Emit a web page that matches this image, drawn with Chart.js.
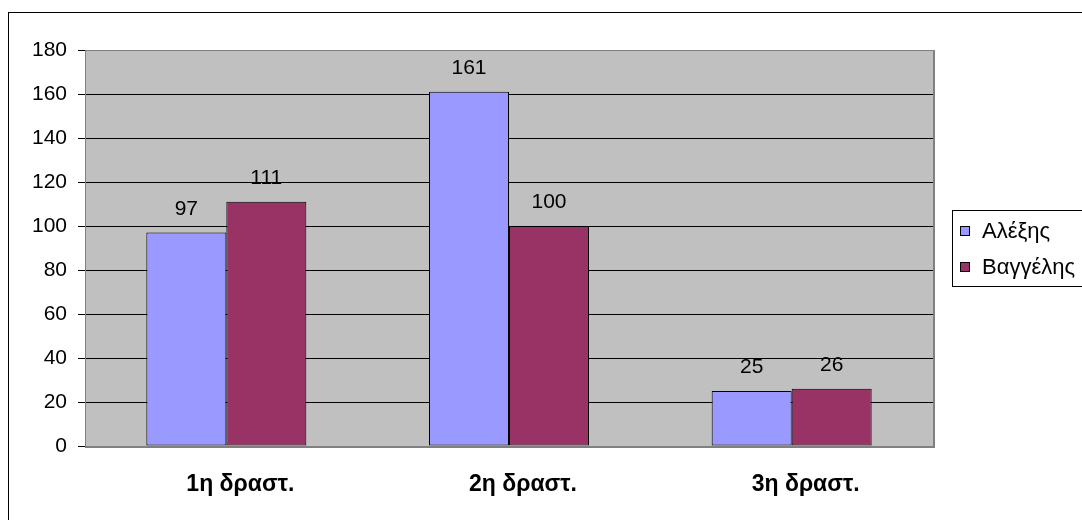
<!DOCTYPE html>
<html>
<head>
<meta charset="utf-8">
<script src="https://cdn.jsdelivr.net/npm/chart.js@4"></script>
<style>
	html, body { margin: 0; padding: 0; background: #fff; overflow: hidden; }
	#wrap { width: 1082px; height: 520px; }
</style>
</head>
<body>
<div id="wrap"><canvas id="chart" width="1082" height="520"></canvas></div>
<script>
var categories = ['1η δραστ.', '2η δραστ.', '3η δραστ.'];
var alexis = [97, 161, 25];
var vangelis = [111, 100, 26];
var yTicks = [0, 20, 40, 60, 80, 100, 120, 140, 160, 180];

var FONT = '"Liberation Sans", Arial, sans-serif';

// background, plot area, outer frame, legend and value labels
var excelLook = {
	id: 'excelLook',
	beforeDraw: function(chart) {
		var c = chart.ctx, a = chart.chartArea;
		c.save();
		c.fillStyle = '#fff';
		c.fillRect(0, 0, chart.width, chart.height);
		c.strokeStyle = '#000';
		c.lineWidth = 1;
		c.strokeRect(8.5, 12.5, 1200, 700);
		c.fillStyle = '#c0c0c0';
		c.fillRect(a.left, a.top, a.right - a.left, a.bottom - a.top);
		c.restore();
	},
	beforeDatasetsDraw: function(chart) {
		var c = chart.ctx, a = chart.chartArea;
		c.save();
		c.strokeStyle = '#808080';
		c.lineWidth = 2;
		c.beginPath();
		c.moveTo(a.right + 1, a.top);
		c.lineTo(a.right + 1, a.bottom + 1);
		c.lineTo(a.left, a.bottom + 1);
		c.stroke();
		c.lineWidth = 1;
		c.beginPath();
		c.moveTo(a.left, a.top + 0.5);
		c.lineTo(a.right, a.top + 0.5);
		c.moveTo(a.left + 0.5, a.top);
		c.lineTo(a.left + 0.5, a.bottom);
		c.stroke();
		c.restore();
	},
	afterDatasetsDraw: function(chart) {
		var c = chart.ctx;
		c.save();
		c.font = '21px ' + FONT;
		c.fillStyle = '#000';
		c.textAlign = 'center';
		c.textBaseline = 'alphabetic';
		chart.data.datasets.forEach(function(ds, i) {
			chart.getDatasetMeta(i).data.forEach(function(el, j) {
				c.fillText(ds.data[j], el.x, el.y - 18);
			});
		});
		c.restore();
	},
	afterDraw: function(chart) {
		var c = chart.ctx;
		c.save();
		c.fillStyle = '#fff';
		c.fillRect(952, 210, 200, 76);
		c.strokeStyle = '#000';
		c.lineWidth = 1;
		c.strokeRect(952.5, 210.5, 200, 76);
		c.font = '22px ' + FONT;
		c.textBaseline = 'middle';
		c.textAlign = 'left';
		chart.data.datasets.forEach(function(ds, i) {
			var y = 231 + i * 36;
			c.fillStyle = ds.backgroundColor;
			c.fillRect(960.5, y - 4.5, 9, 9);
			c.strokeStyle = '#000';
			c.strokeRect(960.5, y - 4.5, 9, 9);
			c.fillStyle = '#000';
			c.fillText(ds.label, 982, y + 1);
		});
		c.restore();
	}
};

var ctx = document.getElementById('chart').getContext('2d');
var myChart = new Chart(ctx, {
	type: 'bar',
	data: {
		labels: categories,
		datasets: [{
			label: 'Αλέξης',
			data: alexis,
			backgroundColor: '#9999ff',
			borderColor: '#000',
			borderWidth: 1,
			borderSkipped: false
		}, {
			label: 'Βαγγέλης',
			data: vangelis,
			backgroundColor: '#993366',
			borderColor: '#000',
			borderWidth: 1,
			borderSkipped: false
		}]
	},
	options: {
		responsive: false,
		animation: false,
		layout: { padding: { left: 0, right: 149, top: 50, bottom: 0 } },
		plugins: {
			legend: { display: false },
			tooltip: { enabled: false }
		},
		datasets: {
			bar: { categoryPercentage: 0.566, barPercentage: 1.0 }
		},
		scales: {
			x: {
				grid: { display: false, drawTicks: false },
				border: { display: false },
				ticks: {
					color: '#000',
					padding: 25,
					labelOffset: 14,
					font: { family: FONT, size: 23, weight: 'bold' }
				},
				afterFit: function(scale) { scale.height = 74; }
			},
			y: {
				min: 0,
				max: 180,
				afterBuildTicks: function(scale) {
					scale.ticks = yTicks.map(function(v) { return { value: v }; });
				},
				grid: {
					color: function(c) { return c.tick && c.tick.value === 180 ? '#808080' : '#000'; },
					tickColor: '#000',
					tickLength: 7,
					lineWidth: 1
				},
				border: { display: false },
				ticks: {
					color: '#000',
					padding: 11,
					font: { family: FONT, size: 21 }
				},
				afterFit: function(scale) { scale.width = 85; }
			}
		}
	},
	plugins: [excelLook]
});
</script>
</body>
</html>
